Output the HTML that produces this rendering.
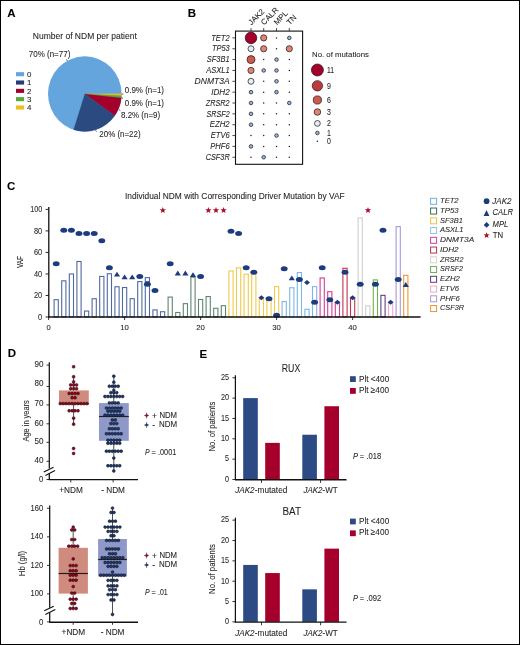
<!DOCTYPE html>
<html><head><meta charset="utf-8"><title>Figure</title>
<style>html,body{margin:0;padding:0;background:#fff;} body{width:520px;height:645px;overflow:hidden;font-family:"Liberation Sans", sans-serif;} svg{display:block;will-change:transform;} text{stroke:#231f20;stroke-width:0.08px;}</style>
</head><body>
<svg width="520" height="645" viewBox="0 0 520 645" font-family="Liberation Sans, sans-serif" fill="#231f20"><text x="7.20" y="17.00" font-size="11.5" font-weight="bold" fill="#000" >A</text>
<text x="32.80" y="38.70" font-size="8.4" textLength="104.00" lengthAdjust="spacingAndGlyphs" >Number of NDM per patient</text>
<text x="28.80" y="56.50" font-size="8.2" textLength="41.50" lengthAdjust="spacingAndGlyphs" >70% (n=77)</text>
<ellipse cx="84.8" cy="93.9" rx="36.8" ry="37.6" fill="#65a5de"/>
<path d="M84.8,93.9 L121.60,93.70 A36.8,37.6 0 0 1 121.55,95.83 Z" fill="#f2bd1b" stroke="#f2bd1b" stroke-width="0.25"/>
<path d="M84.8,93.9 L121.55,95.83 A36.8,37.6 0 0 1 121.39,97.95 Z" fill="#5aa83c" stroke="#5aa83c" stroke-width="0.25"/>
<path d="M84.8,93.9 L121.39,97.95 A36.8,37.6 0 0 1 114.68,115.84 Z" fill="#a3002b" stroke="#a3002b" stroke-width="0.25"/>
<path d="M84.8,93.9 L114.68,115.84 A36.8,37.6 0 0 1 73.61,129.72 Z" fill="#2b4a80" stroke="#2b4a80" stroke-width="0.25"/>
<line x1="66.00" y1="59.50" x2="67.70" y2="60.80" stroke="#231f20" stroke-width="0.7"/>
<line x1="121.60" y1="94.30" x2="123.40" y2="93.90" stroke="#231f20" stroke-width="0.7"/>
<line x1="121.60" y1="97.40" x2="123.00" y2="98.40" stroke="#231f20" stroke-width="0.7"/>
<line x1="118.80" y1="109.50" x2="120.40" y2="110.60" stroke="#231f20" stroke-width="0.7"/>
<line x1="95.40" y1="130.20" x2="96.60" y2="131.60" stroke="#231f20" stroke-width="0.7"/>
<text x="124.80" y="92.70" font-size="8.2" textLength="39.20" lengthAdjust="spacingAndGlyphs" >0.9% (n=1)</text>
<text x="124.80" y="105.60" font-size="8.2" textLength="39.20" lengthAdjust="spacingAndGlyphs" >0.9% (n=1)</text>
<text x="121.00" y="118.40" font-size="8.2" textLength="39.20" lengthAdjust="spacingAndGlyphs" >8.2% (n=9)</text>
<text x="99.30" y="137.10" font-size="8.2" textLength="41.30" lengthAdjust="spacingAndGlyphs" >20% (n=22)</text>
<rect x="16.00" y="72.15" width="8.10" height="4.10" fill="#65a5de"/>
<text x="26.90" y="76.90" font-size="7.9" >0</text>
<rect x="16.00" y="80.47" width="8.10" height="4.10" fill="#213d7a"/>
<text x="26.90" y="85.22" font-size="7.9" >1</text>
<rect x="16.00" y="88.79" width="8.10" height="4.10" fill="#a3002b"/>
<text x="26.90" y="93.54" font-size="7.9" >2</text>
<rect x="16.00" y="97.11" width="8.10" height="4.10" fill="#5aa83c"/>
<text x="26.90" y="101.86" font-size="7.9" >3</text>
<rect x="16.00" y="105.43" width="8.10" height="4.10" fill="#f2bd1b"/>
<text x="26.90" y="110.18" font-size="7.9" >4</text>
<text x="187.80" y="16.70" font-size="11.5" font-weight="bold" fill="#000" >B</text>
<rect x="235.50" y="31.10" width="67.10" height="133.20" fill="none" stroke="#111" stroke-width="1.1"/>
<line x1="251.00" y1="28.00" x2="251.00" y2="31.10" stroke="#231f20" stroke-width="0.8"/>
<line x1="263.70" y1="28.00" x2="263.70" y2="31.10" stroke="#231f20" stroke-width="0.8"/>
<line x1="276.50" y1="28.00" x2="276.50" y2="31.10" stroke="#231f20" stroke-width="0.8"/>
<line x1="289.30" y1="28.00" x2="289.30" y2="31.10" stroke="#231f20" stroke-width="0.8"/>
<text x="0" y="0" font-size="7.9" transform="translate(251.40,25.40) rotate(-45)" >JAK2</text>
<text x="0" y="0" font-size="7.9" transform="translate(264.10,25.40) rotate(-45)" >CALR</text>
<text x="0" y="0" font-size="7.9" transform="translate(276.90,25.40) rotate(-45)" >MPL</text>
<text x="0" y="0" font-size="7.9" transform="translate(289.70,25.40) rotate(-45)" >TN</text>
<line x1="232.40" y1="37.90" x2="235.50" y2="37.90" stroke="#231f20" stroke-width="0.8"/>
<text x="229.70" y="40.60" font-size="8.3" text-anchor="end" font-style="italic" textLength="18.50" lengthAdjust="spacingAndGlyphs" >TET2</text>
<line x1="232.40" y1="48.75" x2="235.50" y2="48.75" stroke="#231f20" stroke-width="0.8"/>
<text x="229.70" y="51.45" font-size="8.3" text-anchor="end" font-style="italic" textLength="17.80" lengthAdjust="spacingAndGlyphs" >TP53</text>
<line x1="232.40" y1="59.60" x2="235.50" y2="59.60" stroke="#231f20" stroke-width="0.8"/>
<text x="229.70" y="62.30" font-size="8.3" text-anchor="end" font-style="italic" textLength="22.90" lengthAdjust="spacingAndGlyphs" >SF3B1</text>
<line x1="232.40" y1="70.45" x2="235.50" y2="70.45" stroke="#231f20" stroke-width="0.8"/>
<text x="229.70" y="73.15" font-size="8.3" text-anchor="end" font-style="italic" textLength="23.50" lengthAdjust="spacingAndGlyphs" >ASXL1</text>
<line x1="232.40" y1="81.30" x2="235.50" y2="81.30" stroke="#231f20" stroke-width="0.8"/>
<text x="229.70" y="84.00" font-size="8.3" text-anchor="end" font-style="italic" textLength="35.10" lengthAdjust="spacingAndGlyphs" >DNMT3A</text>
<line x1="232.40" y1="92.15" x2="235.50" y2="92.15" stroke="#231f20" stroke-width="0.8"/>
<text x="229.70" y="94.85" font-size="8.3" text-anchor="end" font-style="italic" textLength="18.50" lengthAdjust="spacingAndGlyphs" >IDH2</text>
<line x1="232.40" y1="103.00" x2="235.50" y2="103.00" stroke="#231f20" stroke-width="0.8"/>
<text x="229.70" y="105.70" font-size="8.3" text-anchor="end" font-style="italic" textLength="24.00" lengthAdjust="spacingAndGlyphs" >ZRSR2</text>
<line x1="232.40" y1="113.85" x2="235.50" y2="113.85" stroke="#231f20" stroke-width="0.8"/>
<text x="229.70" y="116.55" font-size="8.3" text-anchor="end" font-style="italic" textLength="23.10" lengthAdjust="spacingAndGlyphs" >SRSF2</text>
<line x1="232.40" y1="124.70" x2="235.50" y2="124.70" stroke="#231f20" stroke-width="0.8"/>
<text x="229.70" y="127.40" font-size="8.3" text-anchor="end" font-style="italic" textLength="19.90" lengthAdjust="spacingAndGlyphs" >EZH2</text>
<line x1="232.40" y1="135.55" x2="235.50" y2="135.55" stroke="#231f20" stroke-width="0.8"/>
<text x="229.70" y="138.25" font-size="8.3" text-anchor="end" font-style="italic" textLength="18.90" lengthAdjust="spacingAndGlyphs" >ETV6</text>
<line x1="232.40" y1="146.40" x2="235.50" y2="146.40" stroke="#231f20" stroke-width="0.8"/>
<text x="229.70" y="149.10" font-size="8.3" text-anchor="end" font-style="italic" textLength="19.40" lengthAdjust="spacingAndGlyphs" >PHF6</text>
<line x1="232.40" y1="157.25" x2="235.50" y2="157.25" stroke="#231f20" stroke-width="0.8"/>
<text x="229.70" y="159.95" font-size="8.3" text-anchor="end" font-style="italic" textLength="24.00" lengthAdjust="spacingAndGlyphs" >CSF3R</text>
<circle cx="251.00" cy="37.90" r="5.80" fill="#a3002b" stroke="#2a1c1c" stroke-width="0.75"/>
<circle cx="263.70" cy="37.90" r="3.10" fill="#de8676" stroke="#2a1c1c" stroke-width="0.75"/>
<circle cx="276.50" cy="37.90" r="0.75" fill="#231f20"/>
<circle cx="289.30" cy="37.90" r="1.80" fill="#8dbbe4" stroke="#2a1c1c" stroke-width="0.75"/>
<circle cx="251.00" cy="48.75" r="3.00" fill="#e2eff9" stroke="#2a1c1c" stroke-width="0.75"/>
<circle cx="263.70" cy="48.75" r="3.10" fill="#de8676" stroke="#2a1c1c" stroke-width="0.75"/>
<circle cx="276.50" cy="48.75" r="0.75" fill="#231f20"/>
<circle cx="289.30" cy="48.75" r="3.10" fill="#de8676" stroke="#2a1c1c" stroke-width="0.75"/>
<circle cx="251.00" cy="59.60" r="4.00" fill="#cc5a50" stroke="#2a1c1c" stroke-width="0.75"/>
<circle cx="263.70" cy="59.60" r="0.75" fill="#231f20"/>
<circle cx="276.50" cy="59.60" r="1.80" fill="#8dbbe4" stroke="#2a1c1c" stroke-width="0.75"/>
<circle cx="289.30" cy="59.60" r="0.75" fill="#231f20"/>
<circle cx="251.00" cy="70.45" r="3.10" fill="#de8676" stroke="#2a1c1c" stroke-width="0.75"/>
<circle cx="263.70" cy="70.45" r="1.80" fill="#8dbbe4" stroke="#2a1c1c" stroke-width="0.75"/>
<circle cx="276.50" cy="70.45" r="1.80" fill="#8dbbe4" stroke="#2a1c1c" stroke-width="0.75"/>
<circle cx="289.30" cy="70.45" r="0.75" fill="#231f20"/>
<circle cx="251.00" cy="81.30" r="3.00" fill="#e2eff9" stroke="#2a1c1c" stroke-width="0.75"/>
<circle cx="263.70" cy="81.30" r="0.75" fill="#231f20"/>
<circle cx="276.50" cy="81.30" r="1.80" fill="#8dbbe4" stroke="#2a1c1c" stroke-width="0.75"/>
<circle cx="289.30" cy="81.30" r="0.75" fill="#231f20"/>
<circle cx="251.00" cy="92.15" r="1.80" fill="#8dbbe4" stroke="#2a1c1c" stroke-width="0.75"/>
<circle cx="263.70" cy="92.15" r="0.75" fill="#231f20"/>
<circle cx="276.50" cy="92.15" r="1.80" fill="#8dbbe4" stroke="#2a1c1c" stroke-width="0.75"/>
<circle cx="289.30" cy="92.15" r="0.75" fill="#231f20"/>
<circle cx="251.00" cy="103.00" r="1.80" fill="#8dbbe4" stroke="#2a1c1c" stroke-width="0.75"/>
<circle cx="263.70" cy="103.00" r="0.75" fill="#231f20"/>
<circle cx="276.50" cy="103.00" r="0.75" fill="#231f20"/>
<circle cx="289.30" cy="103.00" r="1.80" fill="#8dbbe4" stroke="#2a1c1c" stroke-width="0.75"/>
<circle cx="251.00" cy="113.85" r="1.80" fill="#8dbbe4" stroke="#2a1c1c" stroke-width="0.75"/>
<circle cx="263.70" cy="113.85" r="0.75" fill="#231f20"/>
<circle cx="276.50" cy="113.85" r="0.75" fill="#231f20"/>
<circle cx="289.30" cy="113.85" r="0.75" fill="#231f20"/>
<circle cx="251.00" cy="124.70" r="1.80" fill="#8dbbe4" stroke="#2a1c1c" stroke-width="0.75"/>
<circle cx="263.70" cy="124.70" r="0.75" fill="#231f20"/>
<circle cx="276.50" cy="124.70" r="0.75" fill="#231f20"/>
<circle cx="289.30" cy="124.70" r="0.75" fill="#231f20"/>
<circle cx="251.00" cy="135.55" r="0.75" fill="#231f20"/>
<circle cx="263.70" cy="135.55" r="0.75" fill="#231f20"/>
<circle cx="276.50" cy="135.55" r="1.80" fill="#8dbbe4" stroke="#2a1c1c" stroke-width="0.75"/>
<circle cx="289.30" cy="135.55" r="0.75" fill="#231f20"/>
<circle cx="251.00" cy="146.40" r="1.80" fill="#8dbbe4" stroke="#2a1c1c" stroke-width="0.75"/>
<circle cx="263.70" cy="146.40" r="0.75" fill="#231f20"/>
<circle cx="276.50" cy="146.40" r="0.75" fill="#231f20"/>
<circle cx="289.30" cy="146.40" r="0.75" fill="#231f20"/>
<circle cx="251.00" cy="157.25" r="0.75" fill="#231f20"/>
<circle cx="263.70" cy="157.25" r="1.80" fill="#8dbbe4" stroke="#2a1c1c" stroke-width="0.75"/>
<circle cx="276.50" cy="157.25" r="0.75" fill="#231f20"/>
<circle cx="289.30" cy="157.25" r="0.75" fill="#231f20"/>
<text x="312.00" y="56.90" font-size="7.6" textLength="56.90" lengthAdjust="spacingAndGlyphs" >No. of mutations</text>
<circle cx="317.40" cy="70.00" r="6.00" fill="#a3002b" stroke="#2a1c1c" stroke-width="0.75"/>
<text x="327.00" y="72.90" font-size="8.4" textLength="7.00" lengthAdjust="spacingAndGlyphs" >11</text>
<circle cx="317.40" cy="85.80" r="5.15" fill="#bf3a3c" stroke="#2a1c1c" stroke-width="0.75"/>
<text x="327.00" y="88.70" font-size="8.4" textLength="3.90" lengthAdjust="spacingAndGlyphs" >9</text>
<circle cx="317.40" cy="100.00" r="4.10" fill="#cc5a50" stroke="#2a1c1c" stroke-width="0.75"/>
<text x="327.00" y="102.90" font-size="8.4" textLength="3.90" lengthAdjust="spacingAndGlyphs" >6</text>
<circle cx="317.40" cy="112.00" r="3.30" fill="#de8676" stroke="#2a1c1c" stroke-width="0.75"/>
<text x="327.00" y="114.90" font-size="8.4" textLength="3.90" lengthAdjust="spacingAndGlyphs" >3</text>
<circle cx="317.40" cy="123.40" r="2.90" fill="#e2eff9" stroke="#2a1c1c" stroke-width="0.75"/>
<text x="327.00" y="126.30" font-size="8.4" textLength="3.90" lengthAdjust="spacingAndGlyphs" >2</text>
<circle cx="317.40" cy="133.00" r="1.80" fill="#8dbbe4" stroke="#2a1c1c" stroke-width="0.75"/>
<text x="327.00" y="135.90" font-size="8.4" textLength="3.90" lengthAdjust="spacingAndGlyphs" >1</text>
<circle cx="317.40" cy="141.20" r="0.75" fill="#231f20"/>
<text x="327.00" y="144.10" font-size="8.4" textLength="3.90" lengthAdjust="spacingAndGlyphs" >0</text>
<text x="7.00" y="189.50" font-size="11.5" font-weight="bold" fill="#000" >C</text>
<text x="125.00" y="199.40" font-size="8.6" textLength="219.60" lengthAdjust="spacingAndGlyphs" >Individual NDM with Corresponding Driver Mutation by VAF</text>
<line x1="48.80" y1="207.00" x2="48.80" y2="317.60" stroke="#111" stroke-width="1.3"/>
<line x1="45.60" y1="317.00" x2="48.80" y2="317.00" stroke="#111" stroke-width="0.9"/>
<text x="42.20" y="320.00" font-size="8.3" text-anchor="end" textLength="4.10" lengthAdjust="spacingAndGlyphs" >0</text>
<line x1="45.60" y1="295.48" x2="48.80" y2="295.48" stroke="#111" stroke-width="0.9"/>
<text x="42.20" y="298.48" font-size="8.3" text-anchor="end" textLength="8.20" lengthAdjust="spacingAndGlyphs" >20</text>
<line x1="45.60" y1="273.96" x2="48.80" y2="273.96" stroke="#111" stroke-width="0.9"/>
<text x="42.20" y="276.96" font-size="8.3" text-anchor="end" textLength="8.20" lengthAdjust="spacingAndGlyphs" >40</text>
<line x1="45.60" y1="252.44" x2="48.80" y2="252.44" stroke="#111" stroke-width="0.9"/>
<text x="42.20" y="255.44" font-size="8.3" text-anchor="end" textLength="8.20" lengthAdjust="spacingAndGlyphs" >60</text>
<line x1="45.60" y1="230.92" x2="48.80" y2="230.92" stroke="#111" stroke-width="0.9"/>
<text x="42.20" y="233.92" font-size="8.3" text-anchor="end" textLength="8.20" lengthAdjust="spacingAndGlyphs" >80</text>
<line x1="45.60" y1="209.40" x2="48.80" y2="209.40" stroke="#111" stroke-width="0.9"/>
<text x="42.20" y="212.40" font-size="8.3" text-anchor="end" textLength="12.00" lengthAdjust="spacingAndGlyphs" >100</text>
<text x="0" y="0" font-size="8.4" text-anchor="middle" textLength="11.90" lengthAdjust="spacingAndGlyphs" transform="translate(23.40,262.00) rotate(-90)" >VAF</text>
<rect x="54.10" y="299.68" width="4.2" height="17.32" fill="#fff" stroke="#4f6aa0" stroke-width="1.1"/>
<rect x="61.70" y="280.85" width="4.2" height="36.15" fill="#fff" stroke="#4f6aa0" stroke-width="1.1"/>
<rect x="69.30" y="273.96" width="4.2" height="43.04" fill="#fff" stroke="#4f6aa0" stroke-width="1.1"/>
<rect x="76.90" y="261.48" width="4.2" height="55.52" fill="#fff" stroke="#4f6aa0" stroke-width="1.1"/>
<rect x="84.50" y="311.08" width="4.2" height="5.92" fill="#fff" stroke="#4f6aa0" stroke-width="1.1"/>
<rect x="92.10" y="298.71" width="4.2" height="18.29" fill="#fff" stroke="#4f6aa0" stroke-width="1.1"/>
<rect x="99.70" y="276.43" width="4.2" height="40.57" fill="#fff" stroke="#4f6aa0" stroke-width="1.1"/>
<rect x="107.30" y="273.74" width="4.2" height="43.26" fill="#fff" stroke="#4f6aa0" stroke-width="1.1"/>
<rect x="114.90" y="286.76" width="4.2" height="30.24" fill="#fff" stroke="#4f6aa0" stroke-width="1.1"/>
<rect x="122.50" y="287.52" width="4.2" height="29.48" fill="#fff" stroke="#4f6aa0" stroke-width="1.1"/>
<rect x="130.10" y="298.71" width="4.2" height="18.29" fill="#fff" stroke="#4f6aa0" stroke-width="1.1"/>
<rect x="137.70" y="281.60" width="4.2" height="35.40" fill="#fff" stroke="#4f6aa0" stroke-width="1.1"/>
<rect x="145.30" y="277.62" width="4.2" height="39.38" fill="#fff" stroke="#4f6aa0" stroke-width="1.1"/>
<rect x="152.90" y="309.90" width="4.2" height="7.10" fill="#fff" stroke="#4f6aa0" stroke-width="1.1"/>
<rect x="160.50" y="311.73" width="4.2" height="5.27" fill="#fff" stroke="#4f6aa0" stroke-width="1.1"/>
<rect x="168.10" y="297.09" width="4.2" height="19.91" fill="#fff" stroke="#5e8670" stroke-width="1.1"/>
<rect x="175.70" y="312.48" width="4.2" height="4.52" fill="#fff" stroke="#5e8670" stroke-width="1.1"/>
<rect x="183.30" y="303.66" width="4.2" height="13.34" fill="#fff" stroke="#5e8670" stroke-width="1.1"/>
<rect x="190.90" y="277.19" width="4.2" height="39.81" fill="#fff" stroke="#5e8670" stroke-width="1.1"/>
<rect x="198.50" y="299.46" width="4.2" height="17.54" fill="#fff" stroke="#5e8670" stroke-width="1.1"/>
<rect x="206.10" y="296.56" width="4.2" height="20.44" fill="#fff" stroke="#5e8670" stroke-width="1.1"/>
<rect x="213.70" y="308.28" width="4.2" height="8.72" fill="#fff" stroke="#5e8670" stroke-width="1.1"/>
<rect x="221.30" y="305.70" width="4.2" height="11.30" fill="#fff" stroke="#5e8670" stroke-width="1.1"/>
<rect x="228.90" y="270.95" width="4.2" height="46.05" fill="#fff" stroke="#f0c94e" stroke-width="1.1"/>
<rect x="236.50" y="267.83" width="4.2" height="49.17" fill="#fff" stroke="#f0c94e" stroke-width="1.1"/>
<rect x="244.10" y="274.18" width="4.2" height="42.82" fill="#fff" stroke="#f0c94e" stroke-width="1.1"/>
<rect x="251.70" y="274.18" width="4.2" height="42.82" fill="#fff" stroke="#f0c94e" stroke-width="1.1"/>
<rect x="259.30" y="298.82" width="4.2" height="18.18" fill="#fff" stroke="#f0c94e" stroke-width="1.1"/>
<rect x="266.90" y="299.78" width="4.2" height="17.22" fill="#fff" stroke="#f0c94e" stroke-width="1.1"/>
<rect x="274.50" y="286.66" width="4.2" height="30.34" fill="#fff" stroke="#f0c94e" stroke-width="1.1"/>
<rect x="282.10" y="301.51" width="4.2" height="15.49" fill="#fff" stroke="#7fb6e6" stroke-width="1.1"/>
<rect x="289.70" y="287.73" width="4.2" height="29.27" fill="#fff" stroke="#7fb6e6" stroke-width="1.1"/>
<rect x="297.30" y="272.56" width="4.2" height="44.44" fill="#fff" stroke="#7fb6e6" stroke-width="1.1"/>
<rect x="304.90" y="309.25" width="4.2" height="7.75" fill="#fff" stroke="#7fb6e6" stroke-width="1.1"/>
<rect x="312.50" y="286.66" width="4.2" height="30.34" fill="#fff" stroke="#7fb6e6" stroke-width="1.1"/>
<rect x="320.10" y="277.94" width="4.2" height="39.06" fill="#fff" stroke="#d43c98" stroke-width="1.1"/>
<rect x="327.70" y="291.71" width="4.2" height="25.29" fill="#fff" stroke="#d43c98" stroke-width="1.1"/>
<rect x="335.30" y="302.90" width="4.2" height="14.10" fill="#fff" stroke="#d43c98" stroke-width="1.1"/>
<rect x="342.90" y="268.26" width="4.2" height="48.74" fill="#fff" stroke="#c1344f" stroke-width="1.1"/>
<rect x="350.50" y="298.17" width="4.2" height="18.83" fill="#fff" stroke="#c1344f" stroke-width="1.1"/>
<rect x="358.10" y="218.01" width="4.2" height="98.99" fill="#fff" stroke="#cfcfcf" stroke-width="1.1"/>
<rect x="365.70" y="305.81" width="4.2" height="11.19" fill="#fff" stroke="#cfcfcf" stroke-width="1.1"/>
<rect x="373.30" y="279.88" width="4.2" height="37.12" fill="#fff" stroke="#72b24e" stroke-width="1.1"/>
<rect x="380.90" y="295.37" width="4.2" height="21.63" fill="#fff" stroke="#634282" stroke-width="1.1"/>
<rect x="388.50" y="302.90" width="4.2" height="14.10" fill="#fff" stroke="#f1a9cf" stroke-width="1.1"/>
<rect x="396.10" y="226.62" width="4.2" height="90.38" fill="#fff" stroke="#a798d6" stroke-width="1.1"/>
<rect x="403.70" y="275.36" width="4.2" height="41.64" fill="#fff" stroke="#e89a33" stroke-width="1.1"/>
<line x1="145.30" y1="281.60" x2="149.50" y2="281.60" stroke="#4f6aa0" stroke-width="1.1"/>
<ellipse cx="56.20" cy="263.74" rx="3.45" ry="2.50" fill="#1d3c7e"/>
<ellipse cx="63.80" cy="230.17" rx="3.45" ry="2.50" fill="#1d3c7e"/>
<ellipse cx="71.40" cy="230.17" rx="3.45" ry="2.50" fill="#1d3c7e"/>
<ellipse cx="79.00" cy="233.50" rx="3.45" ry="2.50" fill="#1d3c7e"/>
<ellipse cx="86.60" cy="233.50" rx="3.45" ry="2.50" fill="#1d3c7e"/>
<ellipse cx="94.20" cy="233.50" rx="3.45" ry="2.50" fill="#1d3c7e"/>
<ellipse cx="101.80" cy="240.82" rx="3.45" ry="2.50" fill="#1d3c7e"/>
<ellipse cx="109.40" cy="267.72" rx="3.45" ry="2.50" fill="#1d3c7e"/>
<polygon points="117.00,271.67 120.10,276.47 113.90,276.47" fill="#1d3c7e"/>
<polygon points="124.60,274.57 127.70,279.37 121.50,279.37" fill="#1d3c7e"/>
<polygon points="132.20,274.57 135.30,279.37 129.10,279.37" fill="#1d3c7e"/>
<ellipse cx="139.80" cy="276.43" rx="3.45" ry="2.50" fill="#1d3c7e"/>
<ellipse cx="147.40" cy="284.18" rx="3.45" ry="2.50" fill="#1d3c7e"/>
<ellipse cx="155.00" cy="290.42" rx="3.45" ry="2.50" fill="#1d3c7e"/>
<polygon points="162.80,206.95 163.65,209.18 166.03,209.30 164.18,210.80 164.80,213.10 162.80,211.80 160.80,213.10 161.42,210.80 159.57,209.30 161.95,209.18" fill="#a50f2d"/>
<ellipse cx="170.20" cy="263.63" rx="3.45" ry="2.50" fill="#1d3c7e"/>
<polygon points="177.80,270.59 180.90,275.39 174.70,275.39" fill="#1d3c7e"/>
<polygon points="185.40,270.59 188.50,275.39 182.30,275.39" fill="#1d3c7e"/>
<polygon points="193.00,272.31 196.10,277.11 189.90,277.11" fill="#1d3c7e"/>
<ellipse cx="200.60" cy="276.43" rx="3.45" ry="2.50" fill="#1d3c7e"/>
<polygon points="208.40,206.95 209.25,209.18 211.63,209.30 209.78,210.80 210.40,213.10 208.40,211.80 206.40,213.10 207.02,210.80 205.17,209.30 207.55,209.18" fill="#a50f2d"/>
<polygon points="216.00,206.95 216.85,209.18 219.23,209.30 217.38,210.80 218.00,213.10 216.00,211.80 214.00,213.10 214.62,210.80 212.77,209.30 215.15,209.18" fill="#a50f2d"/>
<polygon points="223.60,206.95 224.45,209.18 226.83,209.30 224.98,210.80 225.60,213.10 223.60,211.80 221.60,213.10 222.22,210.80 220.37,209.30 222.75,209.18" fill="#a50f2d"/>
<ellipse cx="231.00" cy="231.14" rx="3.45" ry="2.50" fill="#1d3c7e"/>
<ellipse cx="238.60" cy="233.50" rx="3.45" ry="2.50" fill="#1d3c7e"/>
<ellipse cx="246.20" cy="267.83" rx="3.45" ry="2.50" fill="#1d3c7e"/>
<ellipse cx="253.80" cy="272.24" rx="3.45" ry="2.50" fill="#1d3c7e"/>
<polygon points="261.40,295.24 264.40,297.74 261.40,300.24 258.40,297.74" fill="#1d3c7e"/>
<ellipse cx="269.00" cy="298.82" rx="3.45" ry="2.50" fill="#1d3c7e"/>
<ellipse cx="276.60" cy="315.17" rx="3.45" ry="2.50" fill="#1d3c7e"/>
<ellipse cx="284.20" cy="268.80" rx="3.45" ry="2.50" fill="#1d3c7e"/>
<polygon points="291.80,275.43 294.90,280.23 288.70,280.23" fill="#1d3c7e"/>
<ellipse cx="299.40" cy="279.56" rx="3.45" ry="2.50" fill="#1d3c7e"/>
<polygon points="307.00,280.07 310.00,282.57 307.00,285.07 304.00,282.57" fill="#1d3c7e"/>
<ellipse cx="314.60" cy="302.15" rx="3.45" ry="2.50" fill="#1d3c7e"/>
<ellipse cx="322.20" cy="267.83" rx="3.45" ry="2.50" fill="#1d3c7e"/>
<ellipse cx="329.80" cy="299.78" rx="3.45" ry="2.50" fill="#1d3c7e"/>
<polygon points="337.40,299.87 340.40,302.37 337.40,304.87 334.40,302.37" fill="#1d3c7e"/>
<ellipse cx="345.00" cy="272.24" rx="3.45" ry="2.50" fill="#1d3c7e"/>
<polygon points="352.60,295.13 355.60,297.63 352.60,300.13 349.60,297.63" fill="#1d3c7e"/>
<ellipse cx="360.20" cy="284.18" rx="3.45" ry="2.50" fill="#1d3c7e"/>
<polygon points="368.00,206.95 368.85,209.18 371.23,209.30 369.38,210.80 370.00,213.10 368.00,211.80 366.00,213.10 366.62,210.80 364.77,209.30 367.15,209.18" fill="#a50f2d"/>
<ellipse cx="375.40" cy="284.18" rx="3.45" ry="2.50" fill="#1d3c7e"/>
<ellipse cx="383.00" cy="230.17" rx="3.45" ry="2.50" fill="#1d3c7e"/>
<polygon points="390.60,299.87 393.60,302.37 390.60,304.87 387.60,302.37" fill="#1d3c7e"/>
<ellipse cx="398.20" cy="279.56" rx="3.45" ry="2.50" fill="#1d3c7e"/>
<polygon points="405.80,282.10 408.90,286.90 402.70,286.90" fill="#1d3c7e"/>
<line x1="48.20" y1="317.00" x2="420.60" y2="317.00" stroke="#111" stroke-width="1.4"/>
<line x1="48.60" y1="317.00" x2="48.60" y2="320.00" stroke="#231f20" stroke-width="0.9"/>
<text x="48.60" y="329.90" font-size="8.0" text-anchor="middle" textLength="4.20" lengthAdjust="spacingAndGlyphs" >0</text>
<line x1="124.60" y1="317.00" x2="124.60" y2="320.00" stroke="#231f20" stroke-width="0.9"/>
<text x="124.60" y="329.90" font-size="8.0" text-anchor="middle" textLength="8.60" lengthAdjust="spacingAndGlyphs" >10</text>
<line x1="200.60" y1="317.00" x2="200.60" y2="320.00" stroke="#231f20" stroke-width="0.9"/>
<text x="200.60" y="329.90" font-size="8.0" text-anchor="middle" textLength="8.60" lengthAdjust="spacingAndGlyphs" >20</text>
<line x1="276.60" y1="317.00" x2="276.60" y2="320.00" stroke="#231f20" stroke-width="0.9"/>
<text x="276.60" y="329.90" font-size="8.0" text-anchor="middle" textLength="8.60" lengthAdjust="spacingAndGlyphs" >30</text>
<line x1="352.60" y1="317.00" x2="352.60" y2="320.00" stroke="#231f20" stroke-width="0.9"/>
<text x="352.60" y="329.90" font-size="8.0" text-anchor="middle" textLength="8.60" lengthAdjust="spacingAndGlyphs" >40</text>
<rect x="430.60" y="198.30" width="6.00" height="6.00" fill="#fff" stroke="#6aaee8" stroke-width="1.0"/>
<text x="440.00" y="203.20" font-size="7.8" font-style="italic" textLength="18.60" lengthAdjust="spacingAndGlyphs" >TET2</text>
<rect x="430.60" y="208.05" width="6.00" height="6.00" fill="#fff" stroke="#3d6e55" stroke-width="1.0"/>
<text x="440.00" y="212.95" font-size="7.8" font-style="italic" textLength="18.60" lengthAdjust="spacingAndGlyphs" >TP53</text>
<rect x="430.60" y="217.80" width="6.00" height="6.00" fill="#fff" stroke="#f0c23c" stroke-width="1.0"/>
<text x="440.00" y="222.70" font-size="7.8" font-style="italic" textLength="22.80" lengthAdjust="spacingAndGlyphs" >SF3B1</text>
<rect x="430.60" y="227.55" width="6.00" height="6.00" fill="#fff" stroke="#8cc4ec" stroke-width="1.0"/>
<text x="440.00" y="232.45" font-size="7.8" font-style="italic" textLength="23.50" lengthAdjust="spacingAndGlyphs" >ASXL1</text>
<rect x="430.60" y="237.30" width="6.00" height="6.00" fill="#fff" stroke="#d23c96" stroke-width="1.0"/>
<text x="440.00" y="242.20" font-size="7.8" font-style="italic" textLength="34.20" lengthAdjust="spacingAndGlyphs" >DNMT3A</text>
<rect x="430.60" y="247.05" width="6.00" height="6.00" fill="#fff" stroke="#c0304f" stroke-width="1.0"/>
<text x="440.00" y="251.95" font-size="7.8" font-style="italic" textLength="18.60" lengthAdjust="spacingAndGlyphs" >IDH2</text>
<rect x="430.60" y="256.80" width="6.00" height="6.00" fill="#fff" stroke="#d4d4d4" stroke-width="1.0"/>
<text x="440.00" y="261.70" font-size="7.8" font-style="italic" textLength="23.50" lengthAdjust="spacingAndGlyphs" >ZRSR2</text>
<rect x="430.60" y="266.55" width="6.00" height="6.00" fill="#fff" stroke="#6ab04c" stroke-width="1.0"/>
<text x="440.00" y="271.45" font-size="7.8" font-style="italic" textLength="23.00" lengthAdjust="spacingAndGlyphs" >SRSF2</text>
<rect x="430.60" y="276.30" width="6.00" height="6.00" fill="#fff" stroke="#5b3a8a" stroke-width="1.0"/>
<text x="440.00" y="281.20" font-size="7.8" font-style="italic" textLength="19.80" lengthAdjust="spacingAndGlyphs" >EZH2</text>
<rect x="430.60" y="286.05" width="6.00" height="6.00" fill="#fff" stroke="#f0a8cc" stroke-width="1.0"/>
<text x="440.00" y="290.95" font-size="7.8" font-style="italic" textLength="19.00" lengthAdjust="spacingAndGlyphs" >ETV6</text>
<rect x="430.60" y="295.80" width="6.00" height="6.00" fill="#fff" stroke="#a89ad8" stroke-width="1.0"/>
<text x="440.00" y="300.70" font-size="7.8" font-style="italic" textLength="19.80" lengthAdjust="spacingAndGlyphs" >PHF6</text>
<rect x="430.60" y="305.55" width="6.00" height="6.00" fill="#fff" stroke="#e8952e" stroke-width="1.0"/>
<text x="440.00" y="310.45" font-size="7.8" font-style="italic" textLength="24.00" lengthAdjust="spacingAndGlyphs" >CSF3R</text>
<ellipse cx="486.60" cy="201.20" rx="2.85" ry="2.85" fill="#1d3c7e"/>
<text x="492.30" y="203.90" font-size="8.4" font-style="italic" textLength="19.20" lengthAdjust="spacingAndGlyphs" >JAK2</text>
<polygon points="486.50,210.10 489.40,215.90 483.60,215.90" fill="#1d3c7e"/>
<text x="492.60" y="214.60" font-size="8.4" font-style="italic" textLength="20.30" lengthAdjust="spacingAndGlyphs" >CALR</text>
<polygon points="486.60,222.00 489.50,224.90 486.60,227.80 483.70,224.90" fill="#1d3c7e"/>
<text x="492.60" y="226.70" font-size="8.4" font-style="italic" textLength="15.70" lengthAdjust="spacingAndGlyphs" >MPL</text>
<polygon points="486.60,232.20 487.39,234.31 489.64,234.41 487.88,235.82 488.48,237.99 486.60,236.75 484.72,237.99 485.32,235.82 483.56,234.41 485.81,234.31" fill="#a50f2d"/>
<text x="492.80" y="237.80" font-size="8.4" textLength="10.40" lengthAdjust="spacingAndGlyphs" >TN</text>
<text x="7.70" y="357.40" font-size="11.5" font-weight="bold" fill="#000" >D</text>
<line x1="49.30" y1="362.30" x2="49.30" y2="468.60" stroke="#111" stroke-width="1.25"/>
<line x1="49.30" y1="473.40" x2="49.30" y2="480.00" stroke="#111" stroke-width="1.25"/>
<line x1="46.50" y1="365.10" x2="49.30" y2="365.10" stroke="#231f20" stroke-width="0.9"/>
<text x="43.40" y="367.45" font-size="8.3" text-anchor="end" textLength="9.00" lengthAdjust="spacingAndGlyphs" >90</text>
<line x1="46.50" y1="386.50" x2="49.30" y2="386.50" stroke="#231f20" stroke-width="0.9"/>
<text x="43.40" y="386.45" font-size="8.3" text-anchor="end" textLength="9.00" lengthAdjust="spacingAndGlyphs" >80</text>
<line x1="46.50" y1="404.90" x2="49.30" y2="404.90" stroke="#231f20" stroke-width="0.9"/>
<text x="43.40" y="405.95" font-size="8.3" text-anchor="end" textLength="9.00" lengthAdjust="spacingAndGlyphs" >70</text>
<line x1="46.50" y1="423.80" x2="49.30" y2="423.80" stroke="#231f20" stroke-width="0.9"/>
<text x="43.40" y="425.75" font-size="8.3" text-anchor="end" textLength="9.00" lengthAdjust="spacingAndGlyphs" >60</text>
<line x1="46.50" y1="442.30" x2="49.30" y2="442.30" stroke="#231f20" stroke-width="0.9"/>
<text x="43.40" y="444.35" font-size="8.3" text-anchor="end" textLength="9.00" lengthAdjust="spacingAndGlyphs" >50</text>
<line x1="46.50" y1="461.30" x2="49.30" y2="461.30" stroke="#231f20" stroke-width="0.9"/>
<text x="43.40" y="462.95" font-size="8.3" text-anchor="end" textLength="9.00" lengthAdjust="spacingAndGlyphs" >40</text>
<line x1="46.50" y1="479.50" x2="49.30" y2="479.50" stroke="#231f20" stroke-width="0.9"/>
<text x="43.40" y="481.95" font-size="8.3" text-anchor="end" textLength="4.30" lengthAdjust="spacingAndGlyphs" >0</text>
<line x1="43.80" y1="471.90" x2="53.50" y2="467.20" stroke="#111" stroke-width="1.1"/>
<line x1="45.40" y1="475.40" x2="55.00" y2="470.40" stroke="#111" stroke-width="1.1"/>
<line x1="48.80" y1="479.60" x2="138.00" y2="479.60" stroke="#111" stroke-width="1.4"/>
<line x1="70.80" y1="479.60" x2="70.80" y2="482.40" stroke="#231f20" stroke-width="0.9"/>
<line x1="113.10" y1="479.60" x2="113.10" y2="482.40" stroke="#231f20" stroke-width="0.9"/>
<text x="71.00" y="492.60" font-size="8.2" text-anchor="middle" textLength="23.60" lengthAdjust="spacingAndGlyphs" >+NDM</text>
<text x="113.10" y="492.60" font-size="8.2" text-anchor="middle" textLength="23.80" lengthAdjust="spacingAndGlyphs" >- NDM</text>
<text x="0" y="0" font-size="8.6" text-anchor="middle" textLength="41.20" lengthAdjust="spacingAndGlyphs" transform="translate(28.80,420.90) rotate(-90)" >Age in years</text>
<rect x="59.00" y="390.40" width="29.80" height="14.60" fill="#cf8b7e"/>
<line x1="73.60" y1="376.80" x2="73.60" y2="390.40" stroke="#231f20" stroke-width="0.8"/>
<line x1="73.60" y1="404.80" x2="73.60" y2="424.20" stroke="#231f20" stroke-width="0.8"/>
<line x1="59.00" y1="403.60" x2="88.80" y2="403.60" stroke="#231f20" stroke-width="1.1"/>
<circle cx="73.60" cy="366.80" r="1.45" fill="#a0001e" stroke="#111" stroke-width="0.5"/>
<circle cx="73.60" cy="376.80" r="1.45" fill="#a0001e" stroke="#111" stroke-width="0.5"/>
<circle cx="73.60" cy="381.90" r="1.45" fill="#a0001e" stroke="#111" stroke-width="0.5"/>
<circle cx="70.65" cy="385.00" r="1.45" fill="#a0001e" stroke="#111" stroke-width="0.5"/>
<circle cx="73.60" cy="385.00" r="1.45" fill="#a0001e" stroke="#111" stroke-width="0.5"/>
<circle cx="76.55" cy="385.00" r="1.45" fill="#a0001e" stroke="#111" stroke-width="0.5"/>
<circle cx="70.65" cy="388.80" r="1.45" fill="#a0001e" stroke="#111" stroke-width="0.5"/>
<circle cx="73.60" cy="388.80" r="1.45" fill="#a0001e" stroke="#111" stroke-width="0.5"/>
<circle cx="76.55" cy="388.80" r="1.45" fill="#a0001e" stroke="#111" stroke-width="0.5"/>
<circle cx="69.17" cy="393.50" r="1.45" fill="#a0001e" stroke="#111" stroke-width="0.5"/>
<circle cx="72.12" cy="393.50" r="1.45" fill="#a0001e" stroke="#111" stroke-width="0.5"/>
<circle cx="75.07" cy="393.50" r="1.45" fill="#a0001e" stroke="#111" stroke-width="0.5"/>
<circle cx="78.02" cy="393.50" r="1.45" fill="#a0001e" stroke="#111" stroke-width="0.5"/>
<circle cx="72.12" cy="397.70" r="1.45" fill="#a0001e" stroke="#111" stroke-width="0.5"/>
<circle cx="75.07" cy="397.70" r="1.45" fill="#a0001e" stroke="#111" stroke-width="0.5"/>
<circle cx="60.32" cy="403.60" r="1.45" fill="#a0001e" stroke="#111" stroke-width="0.5"/>
<circle cx="63.27" cy="403.60" r="1.45" fill="#a0001e" stroke="#111" stroke-width="0.5"/>
<circle cx="66.22" cy="403.60" r="1.45" fill="#a0001e" stroke="#111" stroke-width="0.5"/>
<circle cx="69.17" cy="403.60" r="1.45" fill="#a0001e" stroke="#111" stroke-width="0.5"/>
<circle cx="72.12" cy="403.60" r="1.45" fill="#a0001e" stroke="#111" stroke-width="0.5"/>
<circle cx="75.07" cy="403.60" r="1.45" fill="#a0001e" stroke="#111" stroke-width="0.5"/>
<circle cx="78.02" cy="403.60" r="1.45" fill="#a0001e" stroke="#111" stroke-width="0.5"/>
<circle cx="80.97" cy="403.60" r="1.45" fill="#a0001e" stroke="#111" stroke-width="0.5"/>
<circle cx="83.92" cy="403.60" r="1.45" fill="#a0001e" stroke="#111" stroke-width="0.5"/>
<circle cx="86.88" cy="403.60" r="1.45" fill="#a0001e" stroke="#111" stroke-width="0.5"/>
<circle cx="69.17" cy="410.80" r="1.45" fill="#a0001e" stroke="#111" stroke-width="0.5"/>
<circle cx="72.12" cy="410.80" r="1.45" fill="#a0001e" stroke="#111" stroke-width="0.5"/>
<circle cx="75.07" cy="410.80" r="1.45" fill="#a0001e" stroke="#111" stroke-width="0.5"/>
<circle cx="78.02" cy="410.80" r="1.45" fill="#a0001e" stroke="#111" stroke-width="0.5"/>
<circle cx="73.60" cy="418.20" r="1.45" fill="#a0001e" stroke="#111" stroke-width="0.5"/>
<circle cx="73.60" cy="424.20" r="1.45" fill="#a0001e" stroke="#111" stroke-width="0.5"/>
<circle cx="73.60" cy="448.50" r="1.45" fill="#a0001e" stroke="#111" stroke-width="0.5"/>
<circle cx="73.60" cy="453.50" r="1.45" fill="#a0001e" stroke="#111" stroke-width="0.5"/>
<rect x="99.00" y="403.10" width="29.80" height="37.70" fill="#8f99c9"/>
<line x1="113.80" y1="376.20" x2="113.80" y2="403.10" stroke="#231f20" stroke-width="0.8"/>
<line x1="113.80" y1="440.80" x2="113.80" y2="471.00" stroke="#231f20" stroke-width="0.8"/>
<line x1="99.00" y1="416.50" x2="128.80" y2="416.50" stroke="#231f20" stroke-width="1.2"/>
<circle cx="113.80" cy="376.20" r="1.45" fill="#1d3a78" stroke="#111" stroke-width="0.5"/>
<circle cx="113.80" cy="382.30" r="1.45" fill="#1d3a78" stroke="#111" stroke-width="0.5"/>
<circle cx="109.38" cy="386.30" r="1.45" fill="#1d3a78" stroke="#111" stroke-width="0.5"/>
<circle cx="112.33" cy="386.30" r="1.45" fill="#1d3a78" stroke="#111" stroke-width="0.5"/>
<circle cx="115.27" cy="386.30" r="1.45" fill="#1d3a78" stroke="#111" stroke-width="0.5"/>
<circle cx="118.22" cy="386.30" r="1.45" fill="#1d3a78" stroke="#111" stroke-width="0.5"/>
<circle cx="113.80" cy="390.40" r="1.45" fill="#1d3a78" stroke="#111" stroke-width="0.5"/>
<circle cx="110.85" cy="392.70" r="1.45" fill="#1d3a78" stroke="#111" stroke-width="0.5"/>
<circle cx="113.80" cy="392.70" r="1.45" fill="#1d3a78" stroke="#111" stroke-width="0.5"/>
<circle cx="116.75" cy="392.70" r="1.45" fill="#1d3a78" stroke="#111" stroke-width="0.5"/>
<circle cx="104.95" cy="396.50" r="1.45" fill="#1d3a78" stroke="#111" stroke-width="0.5"/>
<circle cx="107.90" cy="396.50" r="1.45" fill="#1d3a78" stroke="#111" stroke-width="0.5"/>
<circle cx="110.85" cy="396.50" r="1.45" fill="#1d3a78" stroke="#111" stroke-width="0.5"/>
<circle cx="113.80" cy="396.50" r="1.45" fill="#1d3a78" stroke="#111" stroke-width="0.5"/>
<circle cx="116.75" cy="396.50" r="1.45" fill="#1d3a78" stroke="#111" stroke-width="0.5"/>
<circle cx="119.70" cy="396.50" r="1.45" fill="#1d3a78" stroke="#111" stroke-width="0.5"/>
<circle cx="122.65" cy="396.50" r="1.45" fill="#1d3a78" stroke="#111" stroke-width="0.5"/>
<circle cx="109.38" cy="402.90" r="1.45" fill="#1d3a78" stroke="#111" stroke-width="0.5"/>
<circle cx="112.33" cy="402.90" r="1.45" fill="#1d3a78" stroke="#111" stroke-width="0.5"/>
<circle cx="115.27" cy="402.90" r="1.45" fill="#1d3a78" stroke="#111" stroke-width="0.5"/>
<circle cx="118.22" cy="402.90" r="1.45" fill="#1d3a78" stroke="#111" stroke-width="0.5"/>
<circle cx="106.42" cy="408.10" r="1.45" fill="#1d3a78" stroke="#111" stroke-width="0.5"/>
<circle cx="109.38" cy="408.10" r="1.45" fill="#1d3a78" stroke="#111" stroke-width="0.5"/>
<circle cx="112.33" cy="408.10" r="1.45" fill="#1d3a78" stroke="#111" stroke-width="0.5"/>
<circle cx="115.27" cy="408.10" r="1.45" fill="#1d3a78" stroke="#111" stroke-width="0.5"/>
<circle cx="118.22" cy="408.10" r="1.45" fill="#1d3a78" stroke="#111" stroke-width="0.5"/>
<circle cx="121.17" cy="408.10" r="1.45" fill="#1d3a78" stroke="#111" stroke-width="0.5"/>
<circle cx="107.90" cy="411.20" r="1.45" fill="#1d3a78" stroke="#111" stroke-width="0.5"/>
<circle cx="110.85" cy="411.20" r="1.45" fill="#1d3a78" stroke="#111" stroke-width="0.5"/>
<circle cx="113.80" cy="411.20" r="1.45" fill="#1d3a78" stroke="#111" stroke-width="0.5"/>
<circle cx="116.75" cy="411.20" r="1.45" fill="#1d3a78" stroke="#111" stroke-width="0.5"/>
<circle cx="119.70" cy="411.20" r="1.45" fill="#1d3a78" stroke="#111" stroke-width="0.5"/>
<circle cx="104.95" cy="415.20" r="1.45" fill="#1d3a78" stroke="#111" stroke-width="0.5"/>
<circle cx="107.90" cy="415.20" r="1.45" fill="#1d3a78" stroke="#111" stroke-width="0.5"/>
<circle cx="110.85" cy="415.20" r="1.45" fill="#1d3a78" stroke="#111" stroke-width="0.5"/>
<circle cx="113.80" cy="415.20" r="1.45" fill="#1d3a78" stroke="#111" stroke-width="0.5"/>
<circle cx="116.75" cy="415.20" r="1.45" fill="#1d3a78" stroke="#111" stroke-width="0.5"/>
<circle cx="119.70" cy="415.20" r="1.45" fill="#1d3a78" stroke="#111" stroke-width="0.5"/>
<circle cx="122.65" cy="415.20" r="1.45" fill="#1d3a78" stroke="#111" stroke-width="0.5"/>
<circle cx="112.33" cy="420.00" r="1.45" fill="#1d3a78" stroke="#111" stroke-width="0.5"/>
<circle cx="115.27" cy="420.00" r="1.45" fill="#1d3a78" stroke="#111" stroke-width="0.5"/>
<circle cx="110.85" cy="423.60" r="1.45" fill="#1d3a78" stroke="#111" stroke-width="0.5"/>
<circle cx="113.80" cy="423.60" r="1.45" fill="#1d3a78" stroke="#111" stroke-width="0.5"/>
<circle cx="116.75" cy="423.60" r="1.45" fill="#1d3a78" stroke="#111" stroke-width="0.5"/>
<circle cx="109.38" cy="428.80" r="1.45" fill="#1d3a78" stroke="#111" stroke-width="0.5"/>
<circle cx="112.33" cy="428.80" r="1.45" fill="#1d3a78" stroke="#111" stroke-width="0.5"/>
<circle cx="115.27" cy="428.80" r="1.45" fill="#1d3a78" stroke="#111" stroke-width="0.5"/>
<circle cx="118.22" cy="428.80" r="1.45" fill="#1d3a78" stroke="#111" stroke-width="0.5"/>
<circle cx="106.42" cy="433.80" r="1.45" fill="#1d3a78" stroke="#111" stroke-width="0.5"/>
<circle cx="109.38" cy="433.80" r="1.45" fill="#1d3a78" stroke="#111" stroke-width="0.5"/>
<circle cx="112.33" cy="433.80" r="1.45" fill="#1d3a78" stroke="#111" stroke-width="0.5"/>
<circle cx="115.27" cy="433.80" r="1.45" fill="#1d3a78" stroke="#111" stroke-width="0.5"/>
<circle cx="118.22" cy="433.80" r="1.45" fill="#1d3a78" stroke="#111" stroke-width="0.5"/>
<circle cx="121.17" cy="433.80" r="1.45" fill="#1d3a78" stroke="#111" stroke-width="0.5"/>
<circle cx="107.90" cy="440.20" r="1.45" fill="#1d3a78" stroke="#111" stroke-width="0.5"/>
<circle cx="110.85" cy="440.20" r="1.45" fill="#1d3a78" stroke="#111" stroke-width="0.5"/>
<circle cx="113.80" cy="440.20" r="1.45" fill="#1d3a78" stroke="#111" stroke-width="0.5"/>
<circle cx="116.75" cy="440.20" r="1.45" fill="#1d3a78" stroke="#111" stroke-width="0.5"/>
<circle cx="119.70" cy="440.20" r="1.45" fill="#1d3a78" stroke="#111" stroke-width="0.5"/>
<circle cx="107.90" cy="443.30" r="1.45" fill="#1d3a78" stroke="#111" stroke-width="0.5"/>
<circle cx="110.85" cy="443.30" r="1.45" fill="#1d3a78" stroke="#111" stroke-width="0.5"/>
<circle cx="113.80" cy="443.30" r="1.45" fill="#1d3a78" stroke="#111" stroke-width="0.5"/>
<circle cx="116.75" cy="443.30" r="1.45" fill="#1d3a78" stroke="#111" stroke-width="0.5"/>
<circle cx="119.70" cy="443.30" r="1.45" fill="#1d3a78" stroke="#111" stroke-width="0.5"/>
<circle cx="106.42" cy="451.20" r="1.45" fill="#1d3a78" stroke="#111" stroke-width="0.5"/>
<circle cx="109.38" cy="451.20" r="1.45" fill="#1d3a78" stroke="#111" stroke-width="0.5"/>
<circle cx="112.33" cy="451.20" r="1.45" fill="#1d3a78" stroke="#111" stroke-width="0.5"/>
<circle cx="115.27" cy="451.20" r="1.45" fill="#1d3a78" stroke="#111" stroke-width="0.5"/>
<circle cx="118.22" cy="451.20" r="1.45" fill="#1d3a78" stroke="#111" stroke-width="0.5"/>
<circle cx="121.17" cy="451.20" r="1.45" fill="#1d3a78" stroke="#111" stroke-width="0.5"/>
<circle cx="113.80" cy="458.10" r="1.45" fill="#1d3a78" stroke="#111" stroke-width="0.5"/>
<circle cx="107.90" cy="465.80" r="1.45" fill="#1d3a78" stroke="#111" stroke-width="0.5"/>
<circle cx="110.85" cy="465.80" r="1.45" fill="#1d3a78" stroke="#111" stroke-width="0.5"/>
<circle cx="113.80" cy="465.80" r="1.45" fill="#1d3a78" stroke="#111" stroke-width="0.5"/>
<circle cx="116.75" cy="465.80" r="1.45" fill="#1d3a78" stroke="#111" stroke-width="0.5"/>
<circle cx="119.70" cy="465.80" r="1.45" fill="#1d3a78" stroke="#111" stroke-width="0.5"/>
<circle cx="113.80" cy="471.00" r="1.45" fill="#1d3a78" stroke="#111" stroke-width="0.5"/>
<line x1="144.30" y1="415.50" x2="148.90" y2="415.50" stroke="#222" stroke-width="0.7"/>
<line x1="146.60" y1="412.70" x2="146.60" y2="418.30" stroke="#222" stroke-width="0.7"/>
<circle cx="146.60" cy="415.50" r="1.35" fill="#a0001e"/>
<line x1="144.30" y1="425.00" x2="148.90" y2="425.00" stroke="#222" stroke-width="0.7"/>
<line x1="146.60" y1="422.20" x2="146.60" y2="427.80" stroke="#222" stroke-width="0.7"/>
<circle cx="146.60" cy="425.00" r="1.35" fill="#1d3a78"/>
<text x="151.90" y="418.60" font-size="8.4" >+</text>
<text x="159.40" y="418.10" font-size="8.6" textLength="17.70" lengthAdjust="spacingAndGlyphs" >NDM</text>
<text x="152.20" y="427.90" font-size="8.6" >-</text>
<text x="159.00" y="427.40" font-size="8.6" textLength="18.10" lengthAdjust="spacingAndGlyphs" >NDM</text>
<text x="145.00" y="454.90" font-size="8.4" font-style="italic" textLength="4.60" lengthAdjust="spacingAndGlyphs" >P</text>
<text x="151.40" y="454.90" font-size="8.4" textLength="4.30" lengthAdjust="spacingAndGlyphs" >=</text>
<text x="158.00" y="454.90" font-size="8.4" textLength="18.30" lengthAdjust="spacingAndGlyphs" >.0001</text>
<line x1="49.70" y1="505.40" x2="49.70" y2="607.80" stroke="#111" stroke-width="1.25"/>
<line x1="49.70" y1="612.30" x2="49.70" y2="622.60" stroke="#111" stroke-width="1.25"/>
<line x1="47.00" y1="508.28" x2="49.70" y2="508.28" stroke="#231f20" stroke-width="0.9"/>
<text x="43.20" y="510.83" font-size="8.3" text-anchor="end" textLength="12.60" lengthAdjust="spacingAndGlyphs" >160</text>
<line x1="47.00" y1="536.82" x2="49.70" y2="536.82" stroke="#231f20" stroke-width="0.9"/>
<text x="43.20" y="539.37" font-size="8.3" text-anchor="end" textLength="12.60" lengthAdjust="spacingAndGlyphs" >140</text>
<line x1="47.00" y1="565.36" x2="49.70" y2="565.36" stroke="#231f20" stroke-width="0.9"/>
<text x="43.20" y="567.91" font-size="8.3" text-anchor="end" textLength="12.60" lengthAdjust="spacingAndGlyphs" >120</text>
<line x1="47.00" y1="593.90" x2="49.70" y2="593.90" stroke="#231f20" stroke-width="0.9"/>
<text x="43.20" y="596.45" font-size="8.3" text-anchor="end" textLength="12.60" lengthAdjust="spacingAndGlyphs" >100</text>
<line x1="47.00" y1="621.90" x2="49.70" y2="621.90" stroke="#231f20" stroke-width="0.9"/>
<text x="43.20" y="624.90" font-size="8.3" text-anchor="end" textLength="4.30" lengthAdjust="spacingAndGlyphs" >0</text>
<line x1="44.20" y1="610.70" x2="53.80" y2="606.30" stroke="#111" stroke-width="1.1"/>
<line x1="45.40" y1="614.40" x2="55.30" y2="609.40" stroke="#111" stroke-width="1.1"/>
<line x1="49.20" y1="622.20" x2="138.00" y2="622.20" stroke="#111" stroke-width="1.4"/>
<line x1="73.20" y1="622.10" x2="73.20" y2="624.80" stroke="#231f20" stroke-width="0.9"/>
<line x1="112.50" y1="622.10" x2="112.50" y2="624.80" stroke="#231f20" stroke-width="0.9"/>
<text x="73.40" y="634.70" font-size="8.2" text-anchor="middle" textLength="23.60" lengthAdjust="spacingAndGlyphs" >+NDM</text>
<text x="112.60" y="634.70" font-size="8.2" text-anchor="middle" textLength="23.80" lengthAdjust="spacingAndGlyphs" >- NDM</text>
<text x="0" y="0" font-size="8.4" text-anchor="middle" textLength="25.40" lengthAdjust="spacingAndGlyphs" transform="translate(25.00,563.50) rotate(-90)" >Hb (g/l)</text>
<rect x="58.60" y="547.80" width="29.30" height="45.80" fill="#cf8b7e"/>
<line x1="73.20" y1="527.10" x2="73.20" y2="547.80" stroke="#231f20" stroke-width="0.8"/>
<line x1="73.20" y1="593.60" x2="73.20" y2="608.50" stroke="#231f20" stroke-width="0.8"/>
<line x1="58.60" y1="573.50" x2="87.90" y2="573.50" stroke="#231f20" stroke-width="1.2"/>
<circle cx="73.20" cy="527.10" r="1.45" fill="#a0001e" stroke="#111" stroke-width="0.5"/>
<circle cx="71.73" cy="530.00" r="1.45" fill="#a0001e" stroke="#111" stroke-width="0.5"/>
<circle cx="74.67" cy="530.00" r="1.45" fill="#a0001e" stroke="#111" stroke-width="0.5"/>
<circle cx="71.73" cy="539.60" r="1.45" fill="#a0001e" stroke="#111" stroke-width="0.5"/>
<circle cx="74.67" cy="539.60" r="1.45" fill="#a0001e" stroke="#111" stroke-width="0.5"/>
<circle cx="68.78" cy="546.20" r="1.45" fill="#a0001e" stroke="#111" stroke-width="0.5"/>
<circle cx="71.73" cy="546.20" r="1.45" fill="#a0001e" stroke="#111" stroke-width="0.5"/>
<circle cx="74.67" cy="546.20" r="1.45" fill="#a0001e" stroke="#111" stroke-width="0.5"/>
<circle cx="77.62" cy="546.20" r="1.45" fill="#a0001e" stroke="#111" stroke-width="0.5"/>
<circle cx="73.20" cy="558.90" r="1.45" fill="#a0001e" stroke="#111" stroke-width="0.5"/>
<circle cx="70.25" cy="565.60" r="1.45" fill="#a0001e" stroke="#111" stroke-width="0.5"/>
<circle cx="73.20" cy="565.60" r="1.45" fill="#a0001e" stroke="#111" stroke-width="0.5"/>
<circle cx="76.15" cy="565.60" r="1.45" fill="#a0001e" stroke="#111" stroke-width="0.5"/>
<circle cx="70.25" cy="570.80" r="1.45" fill="#a0001e" stroke="#111" stroke-width="0.5"/>
<circle cx="73.20" cy="570.80" r="1.45" fill="#a0001e" stroke="#111" stroke-width="0.5"/>
<circle cx="76.15" cy="570.80" r="1.45" fill="#a0001e" stroke="#111" stroke-width="0.5"/>
<circle cx="70.25" cy="575.20" r="1.45" fill="#a0001e" stroke="#111" stroke-width="0.5"/>
<circle cx="73.20" cy="575.20" r="1.45" fill="#a0001e" stroke="#111" stroke-width="0.5"/>
<circle cx="76.15" cy="575.20" r="1.45" fill="#a0001e" stroke="#111" stroke-width="0.5"/>
<circle cx="70.25" cy="580.20" r="1.45" fill="#a0001e" stroke="#111" stroke-width="0.5"/>
<circle cx="73.20" cy="580.20" r="1.45" fill="#a0001e" stroke="#111" stroke-width="0.5"/>
<circle cx="76.15" cy="580.20" r="1.45" fill="#a0001e" stroke="#111" stroke-width="0.5"/>
<circle cx="73.20" cy="586.60" r="1.45" fill="#a0001e" stroke="#111" stroke-width="0.5"/>
<circle cx="71.73" cy="593.10" r="1.45" fill="#a0001e" stroke="#111" stroke-width="0.5"/>
<circle cx="74.67" cy="593.10" r="1.45" fill="#a0001e" stroke="#111" stroke-width="0.5"/>
<circle cx="70.25" cy="599.20" r="1.45" fill="#a0001e" stroke="#111" stroke-width="0.5"/>
<circle cx="73.20" cy="599.20" r="1.45" fill="#a0001e" stroke="#111" stroke-width="0.5"/>
<circle cx="76.15" cy="599.20" r="1.45" fill="#a0001e" stroke="#111" stroke-width="0.5"/>
<circle cx="71.73" cy="603.50" r="1.45" fill="#a0001e" stroke="#111" stroke-width="0.5"/>
<circle cx="74.67" cy="603.50" r="1.45" fill="#a0001e" stroke="#111" stroke-width="0.5"/>
<circle cx="70.25" cy="608.50" r="1.45" fill="#a0001e" stroke="#111" stroke-width="0.5"/>
<circle cx="73.20" cy="608.50" r="1.45" fill="#a0001e" stroke="#111" stroke-width="0.5"/>
<circle cx="76.15" cy="608.50" r="1.45" fill="#a0001e" stroke="#111" stroke-width="0.5"/>
<rect x="98.10" y="539.00" width="28.80" height="37.50" fill="#8f99c9"/>
<line x1="112.50" y1="508.10" x2="112.50" y2="539.00" stroke="#231f20" stroke-width="0.8"/>
<line x1="112.50" y1="576.50" x2="112.50" y2="614.50" stroke="#231f20" stroke-width="0.8"/>
<line x1="98.10" y1="559.50" x2="126.90" y2="559.50" stroke="#231f20" stroke-width="1.2"/>
<circle cx="112.50" cy="508.10" r="1.45" fill="#1d3a78" stroke="#111" stroke-width="0.5"/>
<circle cx="111.03" cy="512.50" r="1.45" fill="#1d3a78" stroke="#111" stroke-width="0.5"/>
<circle cx="113.97" cy="512.50" r="1.45" fill="#1d3a78" stroke="#111" stroke-width="0.5"/>
<circle cx="109.55" cy="521.20" r="1.45" fill="#1d3a78" stroke="#111" stroke-width="0.5"/>
<circle cx="112.50" cy="521.20" r="1.45" fill="#1d3a78" stroke="#111" stroke-width="0.5"/>
<circle cx="115.45" cy="521.20" r="1.45" fill="#1d3a78" stroke="#111" stroke-width="0.5"/>
<circle cx="105.12" cy="527.10" r="1.45" fill="#1d3a78" stroke="#111" stroke-width="0.5"/>
<circle cx="108.08" cy="527.10" r="1.45" fill="#1d3a78" stroke="#111" stroke-width="0.5"/>
<circle cx="111.03" cy="527.10" r="1.45" fill="#1d3a78" stroke="#111" stroke-width="0.5"/>
<circle cx="113.97" cy="527.10" r="1.45" fill="#1d3a78" stroke="#111" stroke-width="0.5"/>
<circle cx="116.92" cy="527.10" r="1.45" fill="#1d3a78" stroke="#111" stroke-width="0.5"/>
<circle cx="119.88" cy="527.10" r="1.45" fill="#1d3a78" stroke="#111" stroke-width="0.5"/>
<circle cx="108.08" cy="531.40" r="1.45" fill="#1d3a78" stroke="#111" stroke-width="0.5"/>
<circle cx="111.03" cy="531.40" r="1.45" fill="#1d3a78" stroke="#111" stroke-width="0.5"/>
<circle cx="113.97" cy="531.40" r="1.45" fill="#1d3a78" stroke="#111" stroke-width="0.5"/>
<circle cx="116.92" cy="531.40" r="1.45" fill="#1d3a78" stroke="#111" stroke-width="0.5"/>
<circle cx="111.03" cy="535.80" r="1.45" fill="#1d3a78" stroke="#111" stroke-width="0.5"/>
<circle cx="113.97" cy="535.80" r="1.45" fill="#1d3a78" stroke="#111" stroke-width="0.5"/>
<circle cx="106.60" cy="540.40" r="1.45" fill="#1d3a78" stroke="#111" stroke-width="0.5"/>
<circle cx="109.55" cy="540.40" r="1.45" fill="#1d3a78" stroke="#111" stroke-width="0.5"/>
<circle cx="112.50" cy="540.40" r="1.45" fill="#1d3a78" stroke="#111" stroke-width="0.5"/>
<circle cx="115.45" cy="540.40" r="1.45" fill="#1d3a78" stroke="#111" stroke-width="0.5"/>
<circle cx="118.40" cy="540.40" r="1.45" fill="#1d3a78" stroke="#111" stroke-width="0.5"/>
<circle cx="106.60" cy="549.00" r="1.45" fill="#1d3a78" stroke="#111" stroke-width="0.5"/>
<circle cx="109.55" cy="549.00" r="1.45" fill="#1d3a78" stroke="#111" stroke-width="0.5"/>
<circle cx="112.50" cy="549.00" r="1.45" fill="#1d3a78" stroke="#111" stroke-width="0.5"/>
<circle cx="115.45" cy="549.00" r="1.45" fill="#1d3a78" stroke="#111" stroke-width="0.5"/>
<circle cx="118.40" cy="549.00" r="1.45" fill="#1d3a78" stroke="#111" stroke-width="0.5"/>
<circle cx="109.55" cy="553.80" r="1.45" fill="#1d3a78" stroke="#111" stroke-width="0.5"/>
<circle cx="112.50" cy="553.80" r="1.45" fill="#1d3a78" stroke="#111" stroke-width="0.5"/>
<circle cx="115.45" cy="553.80" r="1.45" fill="#1d3a78" stroke="#111" stroke-width="0.5"/>
<circle cx="102.17" cy="557.70" r="1.45" fill="#1d3a78" stroke="#111" stroke-width="0.5"/>
<circle cx="105.12" cy="557.70" r="1.45" fill="#1d3a78" stroke="#111" stroke-width="0.5"/>
<circle cx="108.08" cy="557.70" r="1.45" fill="#1d3a78" stroke="#111" stroke-width="0.5"/>
<circle cx="111.03" cy="557.70" r="1.45" fill="#1d3a78" stroke="#111" stroke-width="0.5"/>
<circle cx="113.97" cy="557.70" r="1.45" fill="#1d3a78" stroke="#111" stroke-width="0.5"/>
<circle cx="116.92" cy="557.70" r="1.45" fill="#1d3a78" stroke="#111" stroke-width="0.5"/>
<circle cx="119.88" cy="557.70" r="1.45" fill="#1d3a78" stroke="#111" stroke-width="0.5"/>
<circle cx="122.83" cy="557.70" r="1.45" fill="#1d3a78" stroke="#111" stroke-width="0.5"/>
<circle cx="105.12" cy="562.50" r="1.45" fill="#1d3a78" stroke="#111" stroke-width="0.5"/>
<circle cx="108.08" cy="562.50" r="1.45" fill="#1d3a78" stroke="#111" stroke-width="0.5"/>
<circle cx="111.03" cy="562.50" r="1.45" fill="#1d3a78" stroke="#111" stroke-width="0.5"/>
<circle cx="113.97" cy="562.50" r="1.45" fill="#1d3a78" stroke="#111" stroke-width="0.5"/>
<circle cx="116.92" cy="562.50" r="1.45" fill="#1d3a78" stroke="#111" stroke-width="0.5"/>
<circle cx="119.88" cy="562.50" r="1.45" fill="#1d3a78" stroke="#111" stroke-width="0.5"/>
<circle cx="108.08" cy="566.40" r="1.45" fill="#1d3a78" stroke="#111" stroke-width="0.5"/>
<circle cx="111.03" cy="566.40" r="1.45" fill="#1d3a78" stroke="#111" stroke-width="0.5"/>
<circle cx="113.97" cy="566.40" r="1.45" fill="#1d3a78" stroke="#111" stroke-width="0.5"/>
<circle cx="116.92" cy="566.40" r="1.45" fill="#1d3a78" stroke="#111" stroke-width="0.5"/>
<circle cx="112.50" cy="572.10" r="1.45" fill="#1d3a78" stroke="#111" stroke-width="0.5"/>
<circle cx="100.70" cy="575.20" r="1.45" fill="#1d3a78" stroke="#111" stroke-width="0.5"/>
<circle cx="103.65" cy="575.20" r="1.45" fill="#1d3a78" stroke="#111" stroke-width="0.5"/>
<circle cx="106.60" cy="575.20" r="1.45" fill="#1d3a78" stroke="#111" stroke-width="0.5"/>
<circle cx="109.55" cy="575.20" r="1.45" fill="#1d3a78" stroke="#111" stroke-width="0.5"/>
<circle cx="112.50" cy="575.20" r="1.45" fill="#1d3a78" stroke="#111" stroke-width="0.5"/>
<circle cx="115.45" cy="575.20" r="1.45" fill="#1d3a78" stroke="#111" stroke-width="0.5"/>
<circle cx="118.40" cy="575.20" r="1.45" fill="#1d3a78" stroke="#111" stroke-width="0.5"/>
<circle cx="121.35" cy="575.20" r="1.45" fill="#1d3a78" stroke="#111" stroke-width="0.5"/>
<circle cx="124.30" cy="575.20" r="1.45" fill="#1d3a78" stroke="#111" stroke-width="0.5"/>
<circle cx="108.08" cy="580.40" r="1.45" fill="#1d3a78" stroke="#111" stroke-width="0.5"/>
<circle cx="111.03" cy="580.40" r="1.45" fill="#1d3a78" stroke="#111" stroke-width="0.5"/>
<circle cx="113.97" cy="580.40" r="1.45" fill="#1d3a78" stroke="#111" stroke-width="0.5"/>
<circle cx="116.92" cy="580.40" r="1.45" fill="#1d3a78" stroke="#111" stroke-width="0.5"/>
<circle cx="108.08" cy="585.90" r="1.45" fill="#1d3a78" stroke="#111" stroke-width="0.5"/>
<circle cx="111.03" cy="585.90" r="1.45" fill="#1d3a78" stroke="#111" stroke-width="0.5"/>
<circle cx="113.97" cy="585.90" r="1.45" fill="#1d3a78" stroke="#111" stroke-width="0.5"/>
<circle cx="116.92" cy="585.90" r="1.45" fill="#1d3a78" stroke="#111" stroke-width="0.5"/>
<circle cx="109.55" cy="589.80" r="1.45" fill="#1d3a78" stroke="#111" stroke-width="0.5"/>
<circle cx="112.50" cy="589.80" r="1.45" fill="#1d3a78" stroke="#111" stroke-width="0.5"/>
<circle cx="115.45" cy="589.80" r="1.45" fill="#1d3a78" stroke="#111" stroke-width="0.5"/>
<circle cx="108.08" cy="594.60" r="1.45" fill="#1d3a78" stroke="#111" stroke-width="0.5"/>
<circle cx="111.03" cy="594.60" r="1.45" fill="#1d3a78" stroke="#111" stroke-width="0.5"/>
<circle cx="113.97" cy="594.60" r="1.45" fill="#1d3a78" stroke="#111" stroke-width="0.5"/>
<circle cx="116.92" cy="594.60" r="1.45" fill="#1d3a78" stroke="#111" stroke-width="0.5"/>
<circle cx="111.03" cy="600.00" r="1.45" fill="#1d3a78" stroke="#111" stroke-width="0.5"/>
<circle cx="113.97" cy="600.00" r="1.45" fill="#1d3a78" stroke="#111" stroke-width="0.5"/>
<circle cx="112.50" cy="614.50" r="1.45" fill="#1d3a78" stroke="#111" stroke-width="0.5"/>
<line x1="144.30" y1="555.50" x2="148.90" y2="555.50" stroke="#222" stroke-width="0.7"/>
<line x1="146.60" y1="552.70" x2="146.60" y2="558.30" stroke="#222" stroke-width="0.7"/>
<circle cx="146.60" cy="555.50" r="1.35" fill="#a0001e"/>
<line x1="144.30" y1="565.00" x2="148.90" y2="565.00" stroke="#222" stroke-width="0.7"/>
<line x1="146.60" y1="562.20" x2="146.60" y2="567.80" stroke="#222" stroke-width="0.7"/>
<circle cx="146.60" cy="565.00" r="1.35" fill="#1d3a78"/>
<text x="151.90" y="558.60" font-size="8.4" >+</text>
<text x="159.40" y="558.10" font-size="8.6" textLength="17.70" lengthAdjust="spacingAndGlyphs" >NDM</text>
<text x="152.20" y="567.90" font-size="8.6" >-</text>
<text x="159.00" y="567.40" font-size="8.6" textLength="18.10" lengthAdjust="spacingAndGlyphs" >NDM</text>
<text x="145.00" y="594.90" font-size="8.4" font-style="italic" textLength="4.60" lengthAdjust="spacingAndGlyphs" >P</text>
<text x="151.40" y="594.90" font-size="8.4" textLength="4.30" lengthAdjust="spacingAndGlyphs" >=</text>
<text x="158.00" y="594.90" font-size="8.4" textLength="9.70" lengthAdjust="spacingAndGlyphs" >.01</text>
<text x="199.60" y="357.70" font-size="11.5" font-weight="bold" fill="#000" >E</text>
<line x1="235.40" y1="375.25" x2="235.40" y2="480.00" stroke="#111" stroke-width="1.25"/>
<line x1="232.40" y1="479.50" x2="235.40" y2="479.50" stroke="#231f20" stroke-width="0.9"/>
<text x="229.10" y="481.80" font-size="8.2" text-anchor="end" textLength="4.00" lengthAdjust="spacingAndGlyphs" >0</text>
<line x1="232.40" y1="459.15" x2="235.40" y2="459.15" stroke="#231f20" stroke-width="0.9"/>
<text x="229.10" y="461.45" font-size="8.2" text-anchor="end" textLength="4.00" lengthAdjust="spacingAndGlyphs" >5</text>
<line x1="232.40" y1="438.80" x2="235.40" y2="438.80" stroke="#231f20" stroke-width="0.9"/>
<text x="229.10" y="441.10" font-size="8.2" text-anchor="end" textLength="8.10" lengthAdjust="spacingAndGlyphs" >10</text>
<line x1="232.40" y1="418.45" x2="235.40" y2="418.45" stroke="#231f20" stroke-width="0.9"/>
<text x="229.10" y="420.75" font-size="8.2" text-anchor="end" textLength="8.10" lengthAdjust="spacingAndGlyphs" >15</text>
<line x1="232.40" y1="398.10" x2="235.40" y2="398.10" stroke="#231f20" stroke-width="0.9"/>
<text x="229.10" y="400.40" font-size="8.2" text-anchor="end" textLength="8.10" lengthAdjust="spacingAndGlyphs" >20</text>
<line x1="232.40" y1="377.75" x2="235.40" y2="377.75" stroke="#231f20" stroke-width="0.9"/>
<text x="229.10" y="380.05" font-size="8.2" text-anchor="end" textLength="8.10" lengthAdjust="spacingAndGlyphs" >25</text>
<rect x="243.20" y="398.10" width="14.60" height="81.40" fill="#2c4a84"/>
<rect x="265.20" y="442.87" width="14.60" height="36.63" fill="#a5002c"/>
<rect x="302.30" y="434.73" width="14.60" height="44.77" fill="#2c4a84"/>
<rect x="324.40" y="406.24" width="14.60" height="73.26" fill="#a5002c"/>
<line x1="234.90" y1="479.70" x2="346.50" y2="479.70" stroke="#111" stroke-width="1.4"/>
<line x1="261.50" y1="479.50" x2="261.50" y2="482.90" stroke="#231f20" stroke-width="0.9"/>
<line x1="320.60" y1="479.50" x2="320.60" y2="482.90" stroke="#231f20" stroke-width="0.9"/>
<text x="235.20" y="493.20" font-size="8.2" font-style="italic" textLength="19.40" lengthAdjust="spacingAndGlyphs" >JAK2</text>
<text x="254.80" y="493.20" font-size="8.2" textLength="32.50" lengthAdjust="spacingAndGlyphs" >-mutated</text>
<text x="303.40" y="493.20" font-size="8.2" font-style="italic" textLength="19.10" lengthAdjust="spacingAndGlyphs" >JAK2</text>
<text x="322.60" y="493.20" font-size="8.2" textLength="15.20" lengthAdjust="spacingAndGlyphs" >-WT</text>
<text x="281.80" y="372.40" font-size="10.0" textLength="18.50" lengthAdjust="spacingAndGlyphs" >RUX</text>
<text x="0" y="0" font-size="8.5" text-anchor="middle" textLength="49.80" lengthAdjust="spacingAndGlyphs" transform="translate(214.90,426.60) rotate(-90)" >No. of patients</text>
<rect x="350.00" y="376.20" width="5.80" height="5.80" fill="#2c4a84"/>
<rect x="350.00" y="388.00" width="5.80" height="5.80" fill="#a5002c"/>
<text x="359.00" y="381.70" font-size="9.0" textLength="30.20" lengthAdjust="spacingAndGlyphs" >Plt &lt;400</text>
<text x="359.00" y="393.00" font-size="9.0" textLength="30.00" lengthAdjust="spacingAndGlyphs" >Plt ≥400</text>
<text x="353.00" y="458.70" font-size="8.4" font-style="italic" textLength="5.00" lengthAdjust="spacingAndGlyphs" >P</text>
<text x="359.80" y="458.70" font-size="8.4" textLength="4.30" lengthAdjust="spacingAndGlyphs" >=</text>
<text x="366.40" y="458.70" font-size="8.4" textLength="14.80" lengthAdjust="spacingAndGlyphs" >.018</text>
<line x1="235.40" y1="517.65" x2="235.40" y2="622.40" stroke="#111" stroke-width="1.25"/>
<line x1="232.40" y1="621.90" x2="235.40" y2="621.90" stroke="#231f20" stroke-width="0.9"/>
<text x="229.10" y="624.20" font-size="8.2" text-anchor="end" textLength="4.00" lengthAdjust="spacingAndGlyphs" >0</text>
<line x1="232.40" y1="601.55" x2="235.40" y2="601.55" stroke="#231f20" stroke-width="0.9"/>
<text x="229.10" y="603.85" font-size="8.2" text-anchor="end" textLength="4.00" lengthAdjust="spacingAndGlyphs" >5</text>
<line x1="232.40" y1="581.20" x2="235.40" y2="581.20" stroke="#231f20" stroke-width="0.9"/>
<text x="229.10" y="583.50" font-size="8.2" text-anchor="end" textLength="8.10" lengthAdjust="spacingAndGlyphs" >10</text>
<line x1="232.40" y1="560.85" x2="235.40" y2="560.85" stroke="#231f20" stroke-width="0.9"/>
<text x="229.10" y="563.15" font-size="8.2" text-anchor="end" textLength="8.10" lengthAdjust="spacingAndGlyphs" >15</text>
<line x1="232.40" y1="540.50" x2="235.40" y2="540.50" stroke="#231f20" stroke-width="0.9"/>
<text x="229.10" y="542.80" font-size="8.2" text-anchor="end" textLength="8.10" lengthAdjust="spacingAndGlyphs" >20</text>
<line x1="232.40" y1="520.15" x2="235.40" y2="520.15" stroke="#231f20" stroke-width="0.9"/>
<text x="229.10" y="522.45" font-size="8.2" text-anchor="end" textLength="8.10" lengthAdjust="spacingAndGlyphs" >25</text>
<rect x="243.20" y="564.92" width="14.60" height="56.98" fill="#2c4a84"/>
<rect x="265.20" y="573.06" width="14.60" height="48.84" fill="#a5002c"/>
<rect x="302.30" y="589.34" width="14.60" height="32.56" fill="#2c4a84"/>
<rect x="324.40" y="548.64" width="14.60" height="73.26" fill="#a5002c"/>
<line x1="234.90" y1="622.10" x2="346.50" y2="622.10" stroke="#111" stroke-width="1.4"/>
<line x1="261.50" y1="621.90" x2="261.50" y2="625.30" stroke="#231f20" stroke-width="0.9"/>
<line x1="320.60" y1="621.90" x2="320.60" y2="625.30" stroke="#231f20" stroke-width="0.9"/>
<text x="235.20" y="635.60" font-size="8.2" font-style="italic" textLength="19.40" lengthAdjust="spacingAndGlyphs" >JAK2</text>
<text x="254.80" y="635.60" font-size="8.2" textLength="32.50" lengthAdjust="spacingAndGlyphs" >-mutated</text>
<text x="303.40" y="635.60" font-size="8.2" font-style="italic" textLength="19.10" lengthAdjust="spacingAndGlyphs" >JAK2</text>
<text x="322.60" y="635.60" font-size="8.2" textLength="15.20" lengthAdjust="spacingAndGlyphs" >-WT</text>
<text x="282.50" y="514.60" font-size="10.0" textLength="18.50" lengthAdjust="spacingAndGlyphs" >BAT</text>
<text x="0" y="0" font-size="8.5" text-anchor="middle" textLength="49.80" lengthAdjust="spacingAndGlyphs" transform="translate(214.90,569.00) rotate(-90)" >No. of patients</text>
<rect x="350.00" y="518.60" width="5.80" height="5.80" fill="#2c4a84"/>
<rect x="350.00" y="530.40" width="5.80" height="5.80" fill="#a5002c"/>
<text x="359.00" y="524.10" font-size="9.0" textLength="30.20" lengthAdjust="spacingAndGlyphs" >Plt &lt;400</text>
<text x="359.00" y="535.40" font-size="9.0" textLength="30.00" lengthAdjust="spacingAndGlyphs" >Plt ≥400</text>
<text x="353.00" y="600.70" font-size="8.4" font-style="italic" textLength="5.00" lengthAdjust="spacingAndGlyphs" >P</text>
<text x="359.80" y="600.70" font-size="8.4" textLength="4.30" lengthAdjust="spacingAndGlyphs" >=</text>
<text x="366.40" y="600.70" font-size="8.4" textLength="14.80" lengthAdjust="spacingAndGlyphs" >.092</text>
<rect x="0.00" y="0.00" width="520.00" height="1.00" fill="#000"/>
<rect x="0.00" y="644.00" width="520.00" height="1.00" fill="#000"/>
<rect x="0.00" y="0.00" width="1.00" height="645.00" fill="#000"/>
<rect x="519.00" y="0.00" width="1.00" height="645.00" fill="#000"/></svg>
</body></html>
